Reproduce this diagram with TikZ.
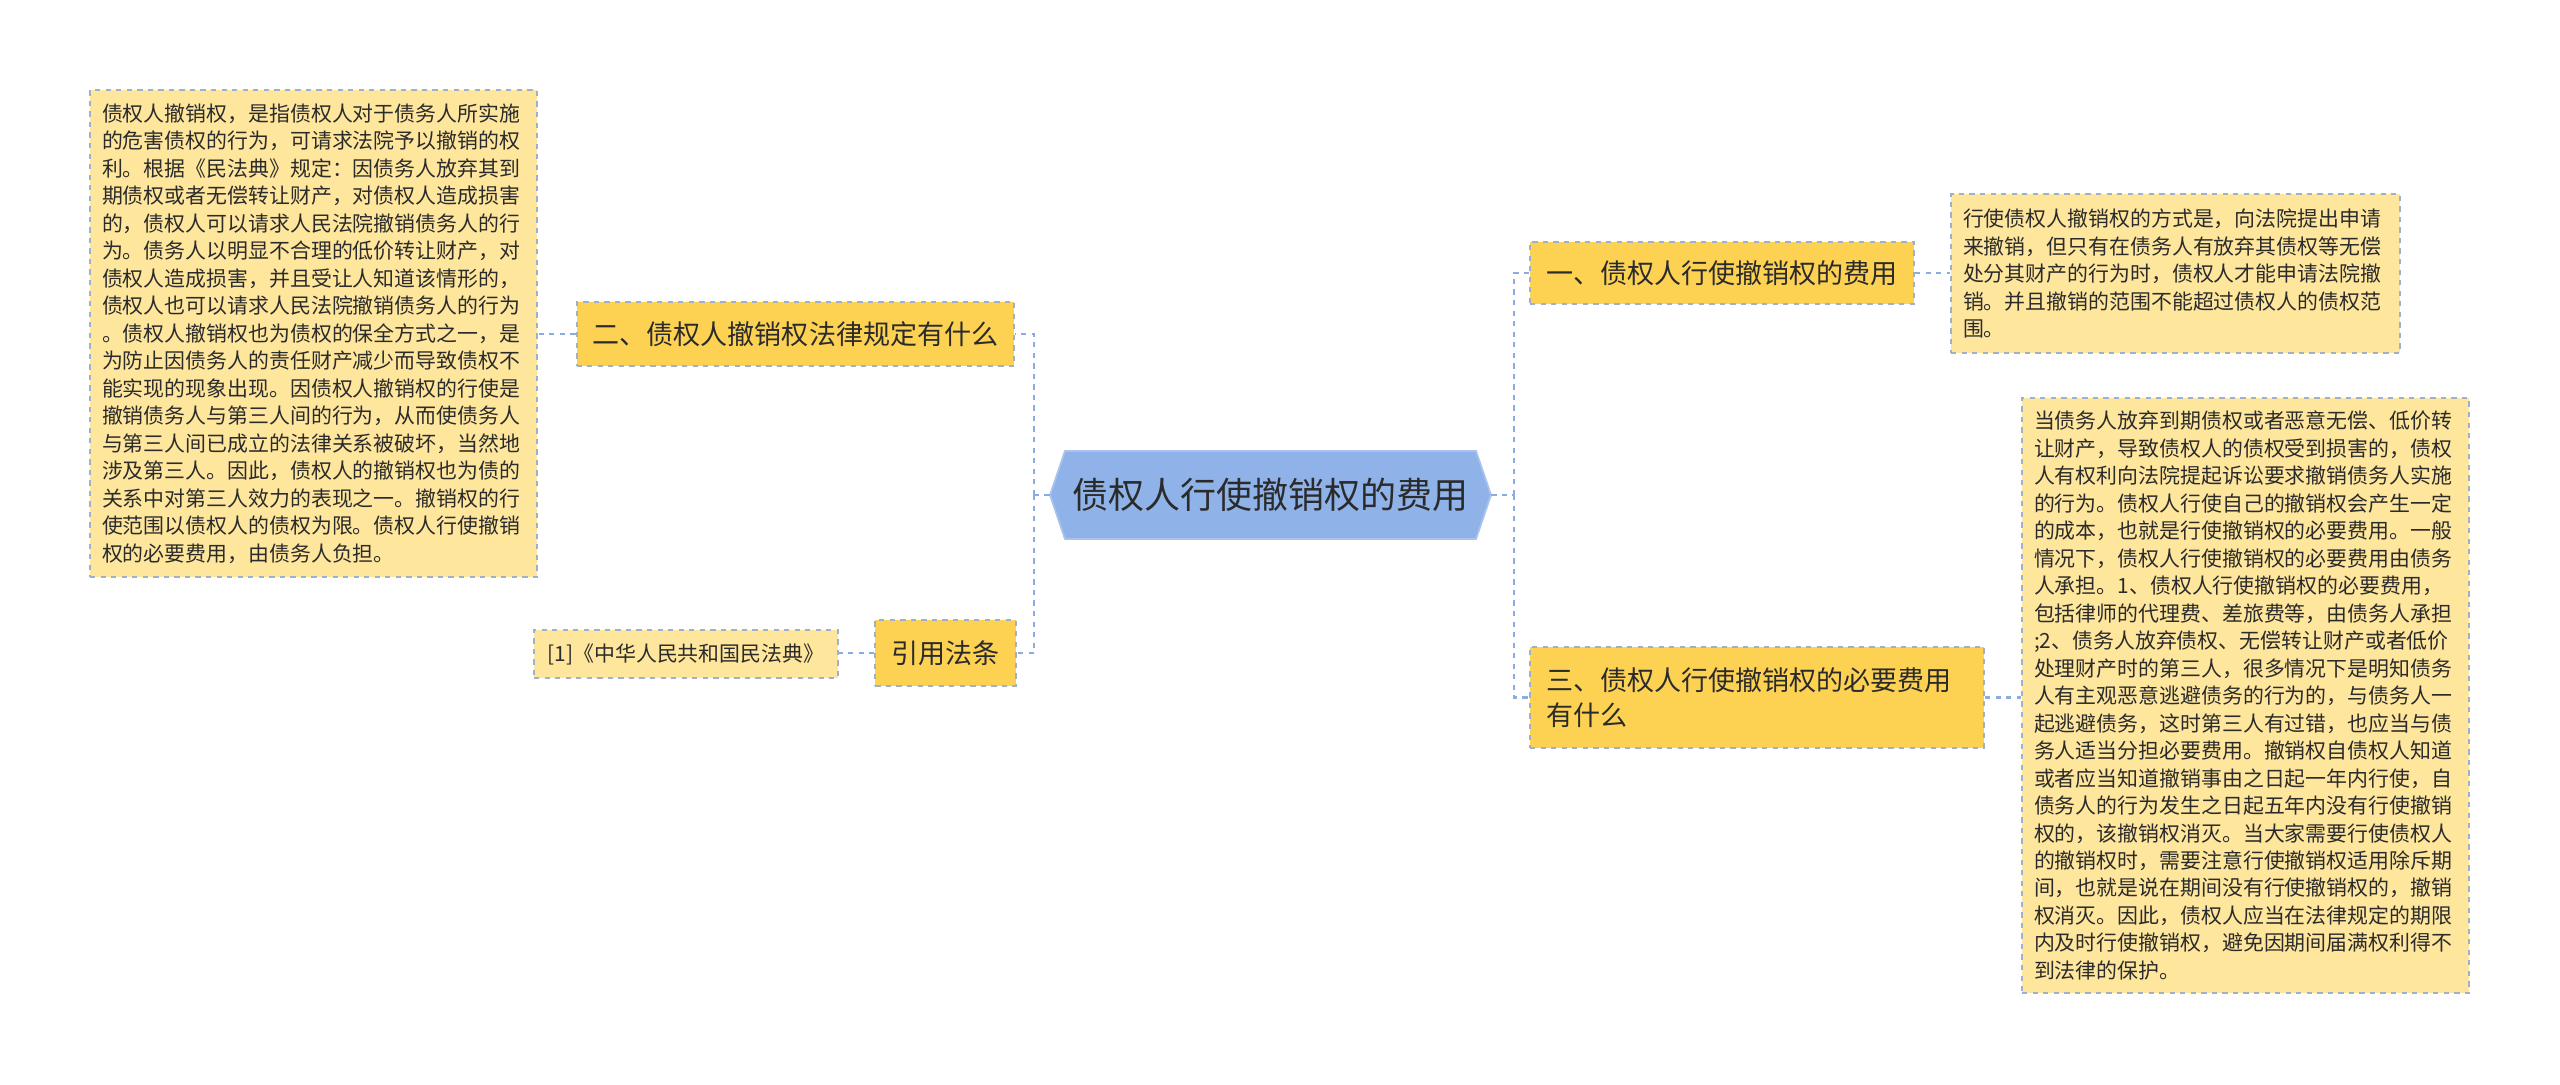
\documentclass[tikz,border=0pt]{standalone}
\usepackage{fontspec}
\setmainfont{Noto Sans CJK SC}
\usepackage{xcolor}

\definecolor{hubblue}{HTML}{8FB3E9}
\definecolor{hubedge}{HTML}{A9C3EC}
\definecolor{topicfill}{HTML}{FDD253}
\definecolor{notefill}{HTML}{FFE69D}
\definecolor{boxedge}{HTML}{9FB1CA}
\definecolor{linkblue}{HTML}{8AACE0}
\definecolor{inktext}{HTML}{2B2B2B}

\tikzset{
  topic/.style={fill=topicfill, draw=boxedge, dashed, line width=1.2pt,
    text=inktext, font=\fontsize{15.4pt}{20pt}\selectfont, inner xsep=0.32cm},
  note/.style={fill=notefill, draw=boxedge, dashed, line width=1.2pt,
    text=inktext, font=\fontsize{11.9pt}{15.65pt}\selectfont,
    align=left, inner xsep=0.24cm, inner ysep=0.2cm},
  link/.style={draw=linkblue, dashed, line width=1.2pt}
}

\begin{document}
\begin{tikzpicture}[x=0.02cm, y=-0.02cm]
    \useasboundingbox (0,0) rectangle (2560,1085);
    \fill[white] (0,0) rectangle (2560,1085);

    % centre topic
    \fill[hubblue, draw=hubedge, line width=1pt] (1050,495) -- (1065,451) -- (1476,451)
        -- (1491,495) -- (1476,539) -- (1065,539) -- cycle;
    \node (root) [minimum width=8.82cm, minimum height=1.76cm, text=inktext,
        font=\fontsize{20.5pt}{24pt}\selectfont] at (1270.5,495) {债权人行使撤销权的费用};

    % left side
    \node (b2) [topic, minimum width=8.74cm, minimum height=1.28cm] at (795.5,334)
        {二、债权人撤销权法律规定有什么};
    \node (cite) [topic, minimum width=2.74cm, minimum height=1.32cm] at (945.5,653) {引用法条};

    \node (t2) [note, text width=8.46cm, minimum height=9.74cm] at (313.5,333.5) {%
债权人撤销权，是指债权人对于债务人所实施\\
的危害债权的行为，可请求法院予以撤销的权\\
利。根据《民法典》规定：因债务人放弃其到\\
期债权或者无偿转让财产，对债权人造成损害\\
的，债权人可以请求人民法院撤销债务人的行\\
为。债务人以明显不合理的低价转让财产，对\\
债权人造成损害，并且受让人知道该情形的，\\
债权人也可以请求人民法院撤销债务人的行为\\
。债权人撤销权也为债权的保全方式之一，是\\
为防止因债务人的责任财产减少而导致债权不\\
能实现的现象出现。因债权人撤销权的行使是\\
撤销债务人与第三人间的行为，从而使债务人\\
与第三人间已成立的法律关系被破坏，当然地\\
涉及第三人。因此，债权人的撤销权也为债的\\
关系中对第三人效力的表现之一。撤销权的行\\
使范围以债权人的债权为限。债权人行使撤销\\
权的必要费用，由债务人负担。};
    \node (src) [note, minimum width=6.08cm, minimum height=0.96cm, align=center] at (686,654)
        {[1]《中华人民共和国民法典》};

    % right side
    \node (b1) [topic, minimum width=7.68cm, minimum height=1.24cm] at (1722,273)
        {一、债权人行使撤销权的费用};
    \node (b3) [topic, text width=8.44cm, align=left, minimum height=2.02cm] at (1757,697.5)
        {三、债权人行使撤销权的必要费用\\有什么};

    \node (t1) [note, text width=8.5cm, minimum height=3.18cm] at (2175.5,273.5) {%
行使债权人撤销权的方式是，向法院提出申请\\
来撤销，但只有在债务人有放弃其债权等无偿\\
处分其财产的行为时，债权人才能申请法院撤\\
销。并且撤销的范围不能超过债权人的债权范\\
围。};

    \node (t3) [note, text width=8.46cm, minimum height=11.9cm] at (2245.5,695.5) {%
当债务人放弃到期债权或者恶意无偿、低价转\\
让财产，导致债权人的债权受到损害的，债权\\
人有权利向法院提起诉讼要求撤销债务人实施\\
的行为。债权人行使自己的撤销权会产生一定\\
的成本，也就是行使撤销权的必要费用。一般\\
情况下，债权人行使撤销权的必要费用由债务\\
人承担。1、债权人行使撤销权的必要费用，\\
包括律师的代理费、差旅费等，由债务人承担\\
;2、债务人放弃债权、无偿转让财产或者低价\\
处理财产时的第三人，很多情况下是明知债务\\
人有主观恶意逃避债务的行为的，与债务人一\\
起逃避债务，这时第三人有过错，也应当与债\\
务人适当分担必要费用。撤销权自债权人知道\\
或者应当知道撤销事由之日起一年内行使，自\\
债务人的行为发生之日起五年内没有行使撤销\\
权的，该撤销权消灭。当大家需要行使债权人\\
的撤销权时，需要注意行使撤销权适用除斥期\\
间，也就是说在期间没有行使撤销权的，撤销\\
权消灭。因此，债权人应当在法律规定的期限\\
内及时行使撤销权，避免因期间届满权利得不\\
到法律的保护。};

    % connectors
    \coordinate (lj) at (1034,495);
    \coordinate (rj) at (1514,495);
    \draw[link] (root.west) -- (lj);
    \draw[link] (lj) |- (b2.east);
    \draw[link] (lj) |- (cite.east);
    \draw[link] (b2.west) -- (b2.west -| t2.east);
    \draw[link] (cite.west) -- (cite.west -| src.east);
    \draw[link] (root.east) -- (rj);
    \draw[link] (rj) |- (b1.west);
    \draw[link] (rj) |- (b3.west);
    \draw[link] (b1.east) -- (b1.east -| t1.west);
    \draw[link] (b3.east) -- (b3.east -| t3.west);
\end{tikzpicture}
\end{document}
